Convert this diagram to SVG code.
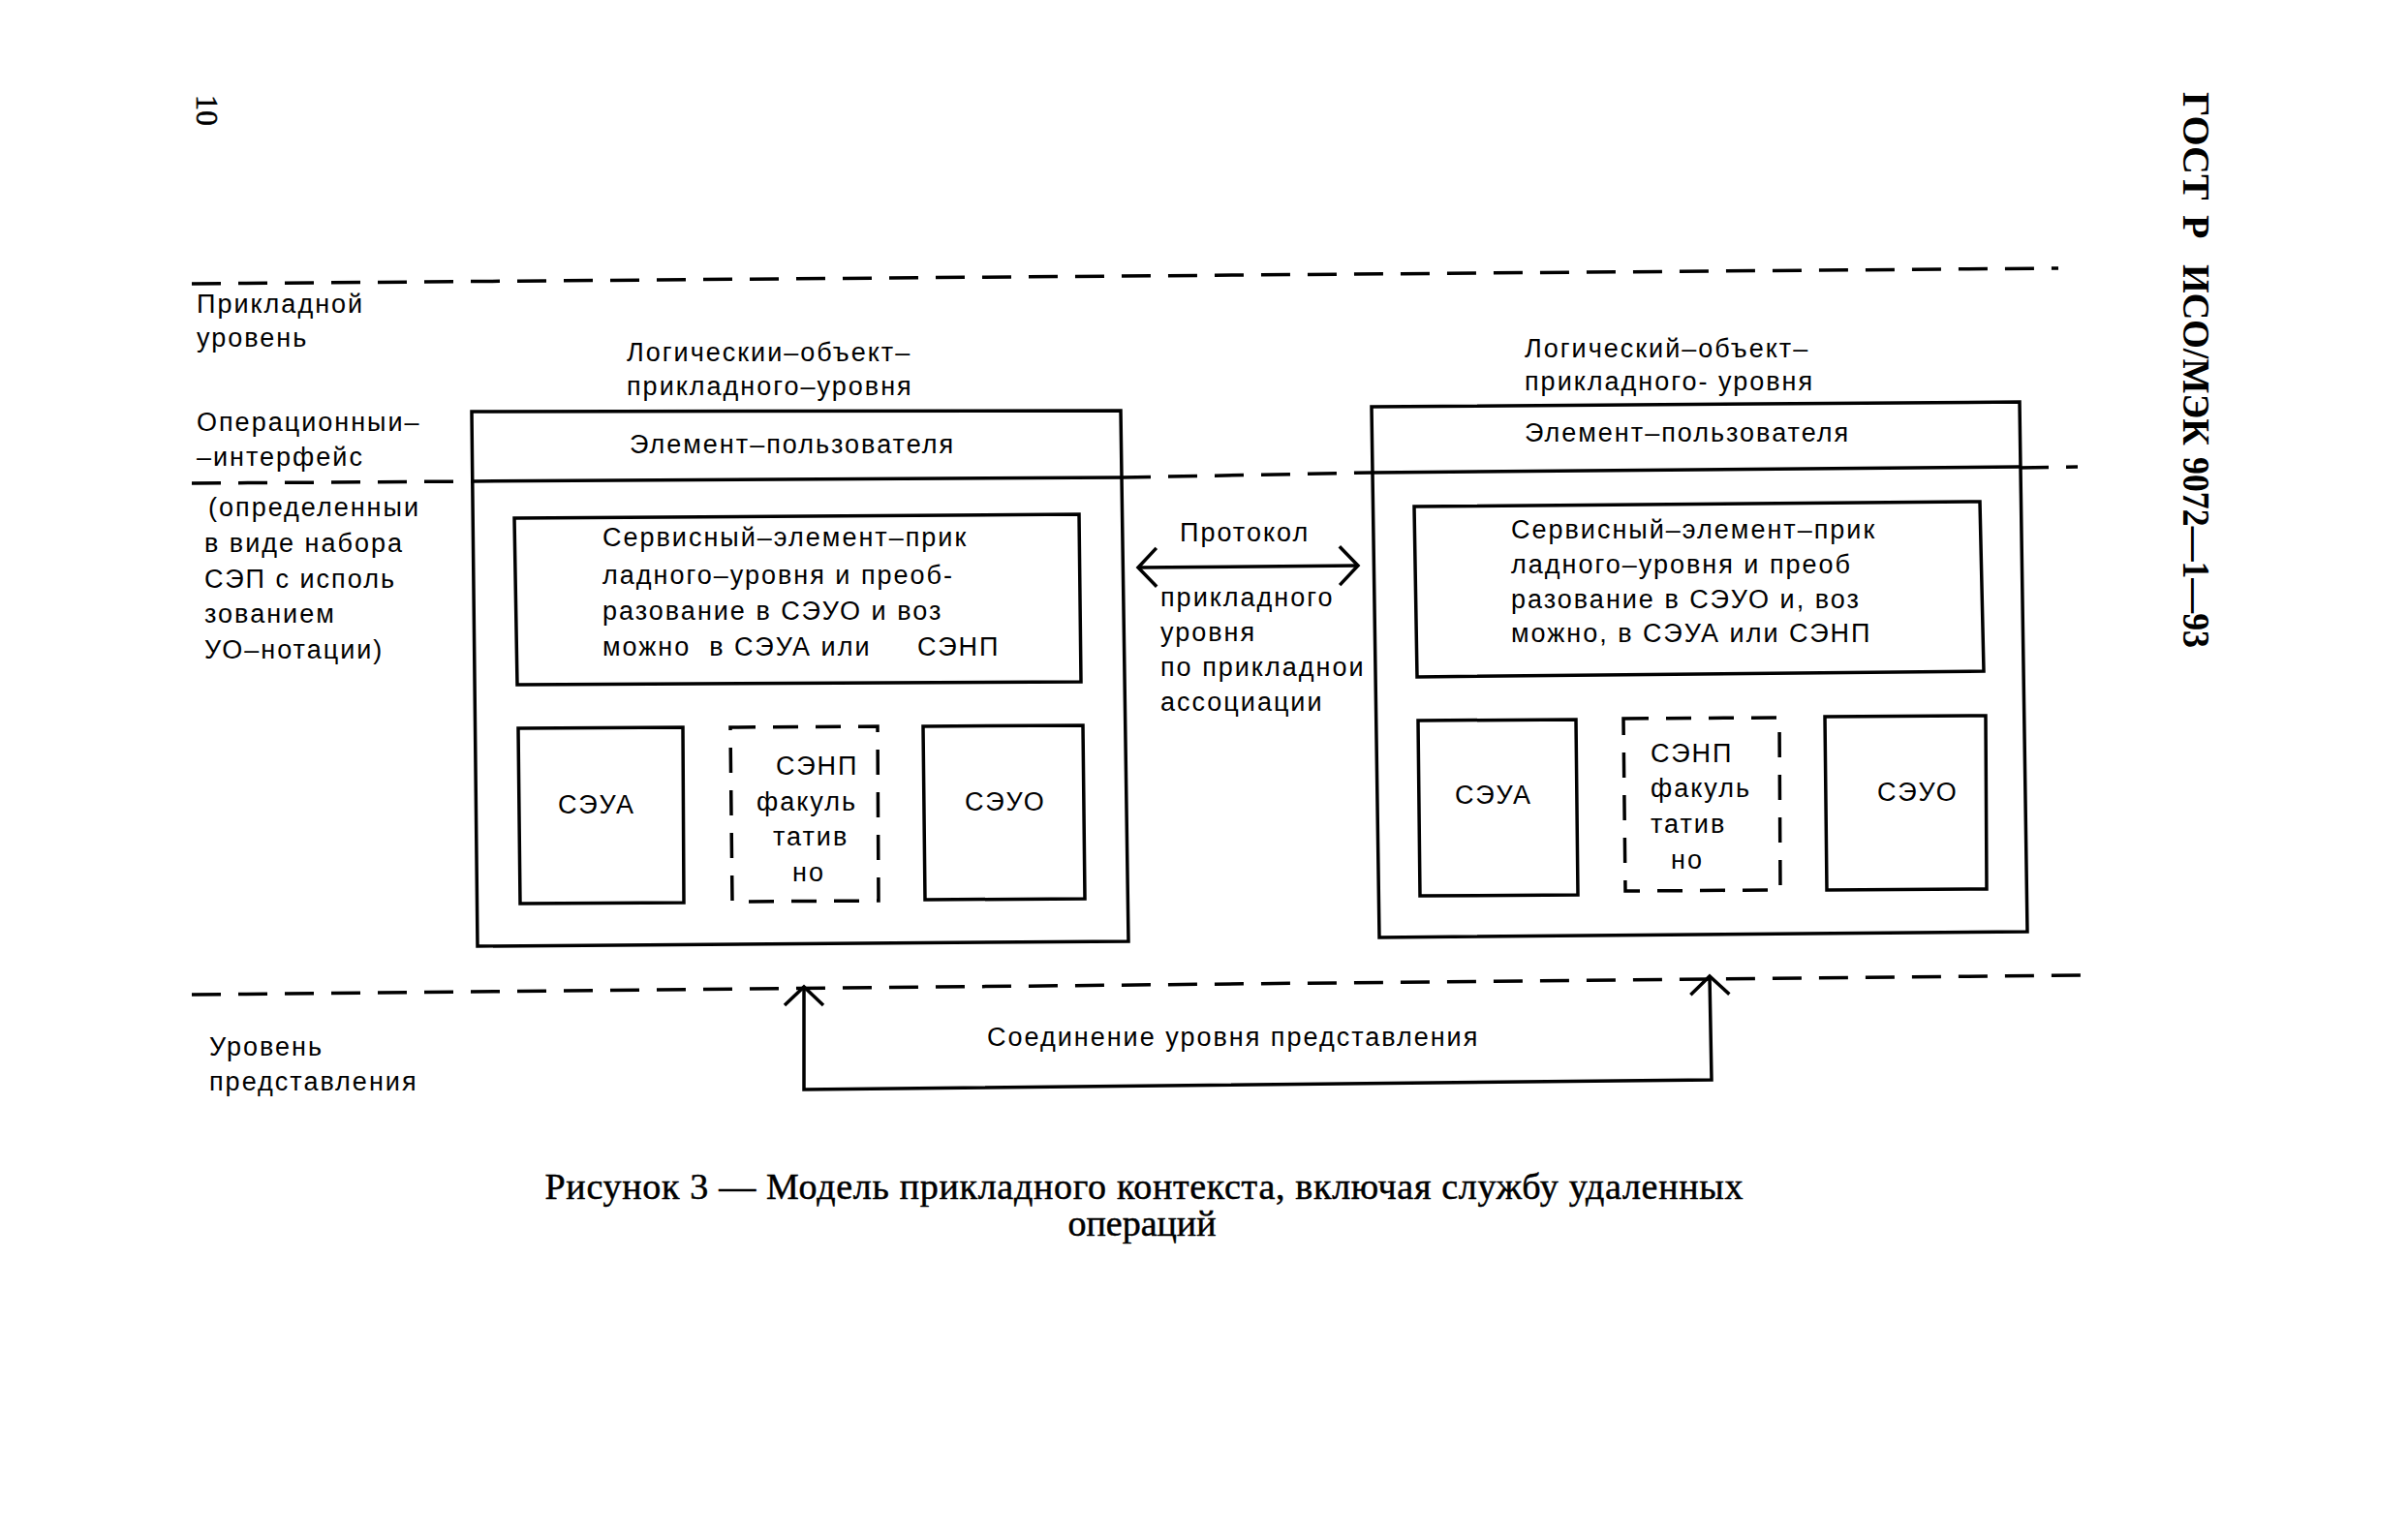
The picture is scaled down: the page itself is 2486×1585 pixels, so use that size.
<svg xmlns="http://www.w3.org/2000/svg" width="2486" height="1585" viewBox="0 0 2486 1585">
<style>
.lbl{font-family:"Liberation Sans",Arial,sans-serif;font-size:27px;letter-spacing:2px;fill:#000}
.cap{font-family:"Liberation Serif","Times New Roman",serif;font-size:38px;fill:#000;stroke:#000;stroke-width:0.5}
.hdr{font-family:"Liberation Serif","Times New Roman",serif;font-size:40px;font-weight:bold;fill:#000}
.pg{font-family:"Liberation Serif","Times New Roman",serif;font-size:32px;fill:#000;stroke:#000;stroke-width:0.6}
.box{fill:none;stroke:#000;stroke-width:3.5;stroke-linejoin:miter}
.opt{fill:none;stroke:#000;stroke-width:3.5;stroke-dasharray:26 18}
.lvl{fill:none;stroke:#000;stroke-width:3.5;stroke-dasharray:30 18}
.con{fill:none;stroke:#000;stroke-width:3.5}
</style>
<defs>
<marker id="vh" viewBox="-24 -24 28 48" refX="0" refY="0" markerWidth="28" markerHeight="48" markerUnits="userSpaceOnUse" orient="auto-start-reverse">
<path d="M-19,-20 L0,0 L-19,20" fill="none" stroke="#000" stroke-width="3.5"/>
</marker>
</defs>
<rect width="2486" height="1585" fill="#fff"/>

<g id="page-headers">
<text class="pg" transform="translate(203,98) rotate(90)">10</text>
<text class="hdr" transform="translate(2254,95) rotate(90)"><tspan x="0" y="0">ГОСТ</tspan><tspan x="127" y="0">Р</tspan><tspan x="178" y="0" textLength="187" lengthAdjust="spacingAndGlyphs">ИСО/МЭК</tspan><tspan x="377" y="0" textLength="197" lengthAdjust="spacingAndGlyphs">9072—1—93</tspan></text>
</g>

<g id="level-lines">
<path class="lvl" d="M198,293 L2125,277"/>
<path class="lvl" d="M198,499 L487,497"/>
<path class="lvl" d="M1158,493 L1417,488"/>
<path class="lvl" d="M2085,483 L2145,482"/>
<path class="lvl" d="M198,1027 L2148,1007"/>
</g>

<g id="level-labels">
<text class="lbl" x="203" y="323">Прикладной</text>
<text class="lbl" x="203" y="358">уровень</text>
<text class="lbl" x="203" y="445">Операционныи–</text>
<text class="lbl" x="203" y="481">–интерфейс</text>
<text class="lbl" x="215" y="533">(определенныи</text>
<text class="lbl" x="211" y="570">в виде набора</text>
<text class="lbl" x="211" y="607">СЭП с исполь</text>
<text class="lbl" x="211" y="643">зованием</text>
<text class="lbl" x="211" y="680">УО–нотации)</text>
<text class="lbl" x="216" y="1090">Уровень</text>
<text class="lbl" x="216" y="1126">представления</text>
</g>

<g id="left-entity">
<text class="lbl" x="647" y="373">Логическии–объект–</text>
<text class="lbl" x="647" y="408">прикладного–уровня</text>
<path class="box" d="M487,425 L1157,424 L1165,972 L493,977 Z"/>
<path class="box" d="M487,497 L1158,493"/>
<text class="lbl" x="650" y="468">Элемент–пользователя</text>
</g>

<g id="left-ase">
<path class="box" d="M531,535 L1114,531 L1116,704 L534,707 Z"/>
<text class="lbl" x="622" y="564">Сервисный–элемент–прик</text>
<text class="lbl" x="622" y="603">ладного–уровня и преоб-</text>
<text class="lbl" x="622" y="640">разование в СЭУО и  воз</text>
<text class="lbl" x="622" y="677" xml:space="preserve">можно  в СЭУА или     СЭНП</text>
</g>

<g id="left-acse">
<path class="box" d="M535,752 L705,751 L706,932 L537,933 Z"/>
<text class="lbl" x="576" y="840">СЭУА</text>
</g>
<g id="left-rtse">
<path class="opt" d="M754,751 L906,750 L907,930 L756,931 Z"/>
<text class="lbl" x="801" y="800">СЭНП</text>
<text class="lbl" x="781" y="837">факуль</text>
<text class="lbl" x="798" y="873">татив</text>
<text class="lbl" x="818" y="910">но</text>
</g>
<g id="left-rose">
<path class="box" d="M953,750 L1118,749 L1120,928 L955,929 Z"/>
<text class="lbl" x="996" y="837">СЭУО</text>
</g>

<g id="right-entity">
<text class="lbl" x="1574" y="369">Логический–объект–</text>
<text class="lbl" x="1574" y="403">прикладного- уровня</text>
<path class="box" d="M1416,420 L2085,415 L2093,962 L1424,968 Z"/>
<path class="box" d="M1417,488 L2086,482"/>
<text class="lbl" x="1574" y="456">Элемент–пользователя</text>
</g>

<g id="right-ase">
<path class="box" d="M1460,523 L2044,518 L2048,693 L1463,699 Z"/>
<text class="lbl" x="1560" y="556">Сервисный–элемент–прик</text>
<text class="lbl" x="1560" y="592">ладного–уровня и преоб</text>
<text class="lbl" x="1560" y="628">разование в СЭУО и, воз</text>
<text class="lbl" x="1560" y="663">можно, в СЭУА или СЭНП</text>
</g>

<g id="right-acse">
<path class="box" d="M1464,744 L1627,743 L1629,924 L1466,925 Z"/>
<text class="lbl" x="1502" y="830">СЭУА</text>
</g>
<g id="right-rtse">
<path class="opt" d="M1676,742 L1837,741 L1838,919 L1678,920 Z"/>
<text class="lbl" x="1704" y="787">СЭНП</text>
<text class="lbl" x="1704" y="823">факуль</text>
<text class="lbl" x="1704" y="860">татив</text>
<text class="lbl" x="1725" y="897">но</text>
</g>
<g id="right-rose">
<path class="box" d="M1884,740 L2050,739 L2051,918 L1886,919 Z"/>
<text class="lbl" x="1938" y="827">СЭУО</text>
</g>

<g id="connectors">
<path class="con" d="M1175,586 L1402,584" marker-start="url(#vh)" marker-end="url(#vh)"/>
<path class="con" d="M830,1019 L830,1125 L1767,1115 L1765,1008" marker-start="url(#vh)" marker-end="url(#vh)"/>
</g>

<g id="connector-labels">
<text class="lbl" x="1218" y="559">Протокол</text>
<text class="lbl" x="1198" y="626">прикладного</text>
<text class="lbl" x="1198" y="662">уровня</text>
<text class="lbl" x="1198" y="698">по прикладнои</text>
<text class="lbl" x="1198" y="734">ассоциации</text>
<text class="lbl" x="1019" y="1080">Соединение уровня представления</text>
</g>

<g id="caption">
<text class="cap" x="1181" y="1238" text-anchor="middle" textLength="1237" lengthAdjust="spacing">Рисунок 3 — Модель прикладного контекста, включая службу удаленных</text>
<text class="cap" x="1179" y="1276" text-anchor="middle">операций</text>
</g>
</svg>
